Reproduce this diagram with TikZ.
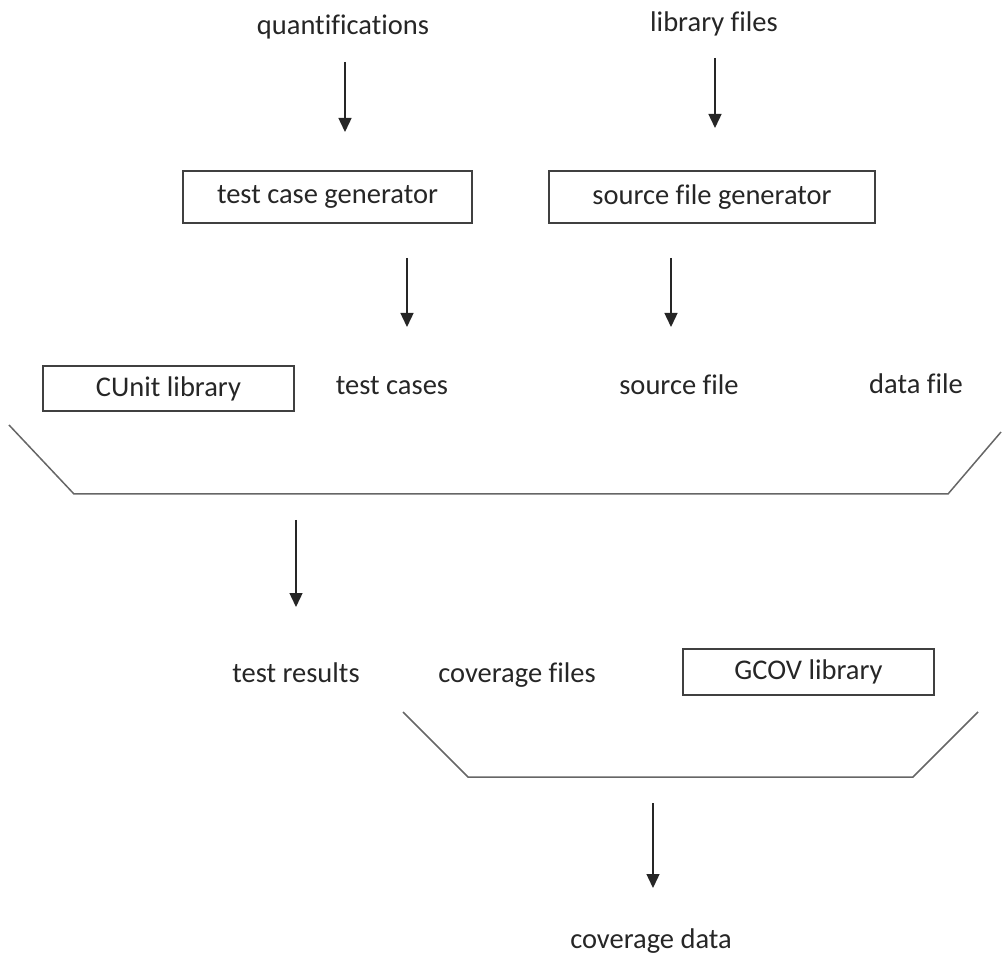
\documentclass[tikz,border=0pt]{standalone}
\usepackage{fontspec}
\setmainfont[Ligatures={CommonOff}]{Carlito}
\usetikzlibrary{arrows.meta}
\begin{document}
\begin{tikzpicture}[x=1pt,y=-1pt,
  lbl/.style={font=\fontsize{28.5}{34}\selectfont, text=black!85, inner sep=0pt, anchor=base},
  boxn/.style={draw=black!75, line width=1.3pt, text=black!85, font=\fontsize{28.5}{34}\selectfont, inner sep=0pt},
  arr/.style={draw=black!85, line width=1.4pt, -{Triangle[width=13pt,length=14pt]}},
  trap/.style={draw=black!60, line width=1.5pt}]
\useasboundingbox (0,0) rectangle (1002,957);
% labels
\node[lbl] (quant) at (343,35) {quantifications};
\node[lbl] (libf) at (714,32) {library files};
\node[boxn, minimum width=289pt, minimum height=52pt] (tcg) at (327.5,197) {test case generator};
\node[boxn, minimum width=326pt, minimum height=52pt] (sfg) at (712,197) {source file generator};
\node[boxn, minimum width=251pt, minimum height=45pt] (cunit) at (168.5,388.5) {CUnit library};
\node[lbl] (tc) at (392,395) {test cases};
\node[lbl] (sf) at (679,395) {source file};
\node[lbl] (df) at (916,394) {data file};
\node[lbl] (tr) at (296,682) {test results};
\node[lbl] (cf) at (517,682) {coverage files};
\node[boxn, minimum width=251pt, minimum height=46pt] (gcov) at (808.5,672) {GCOV library};
\node[lbl] (cd) at (651,948) {coverage data};
% arrow end points
\coordinate (a1s) at (345,62);  \coordinate (a1e) at (345,132);
\coordinate (a2s) at (715,58);  \coordinate (a2e) at (715,128);
\coordinate (a3s) at (407,258); \coordinate (a3e) at (407,327);
\coordinate (a4s) at (671,258); \coordinate (a4e) at (671,327);
\coordinate (a5s) at (296,520); \coordinate (a5e) at (296,607);
\coordinate (a6s) at (653,803); \coordinate (a6e) at (653,888);
\draw[arr] (a1s) -- (a1e);
\draw[arr] (a2s) -- (a2e);
\draw[arr] (a3s) -- (a3e);
\draw[arr] (a4s) -- (a4e);
\draw[arr] (a5s) -- (a5e);
\draw[arr] (a6s) -- (a6e);
% trapezoids
\coordinate (t1a) at (9,425);  \coordinate (t1b) at (74,494);
\coordinate (t1c) at (948,494); \coordinate (t1d) at (1001,432);
\draw[trap] (t1a) -- (t1b) -- (t1c) -- (t1d);
\coordinate (t2a) at (403,712); \coordinate (t2b) at (468,777);
\coordinate (t2c) at (913,777); \coordinate (t2d) at (978,712);
\draw[trap] (t2a) -- (t2b) -- (t2c) -- (t2d);
\end{tikzpicture}
\end{document}
